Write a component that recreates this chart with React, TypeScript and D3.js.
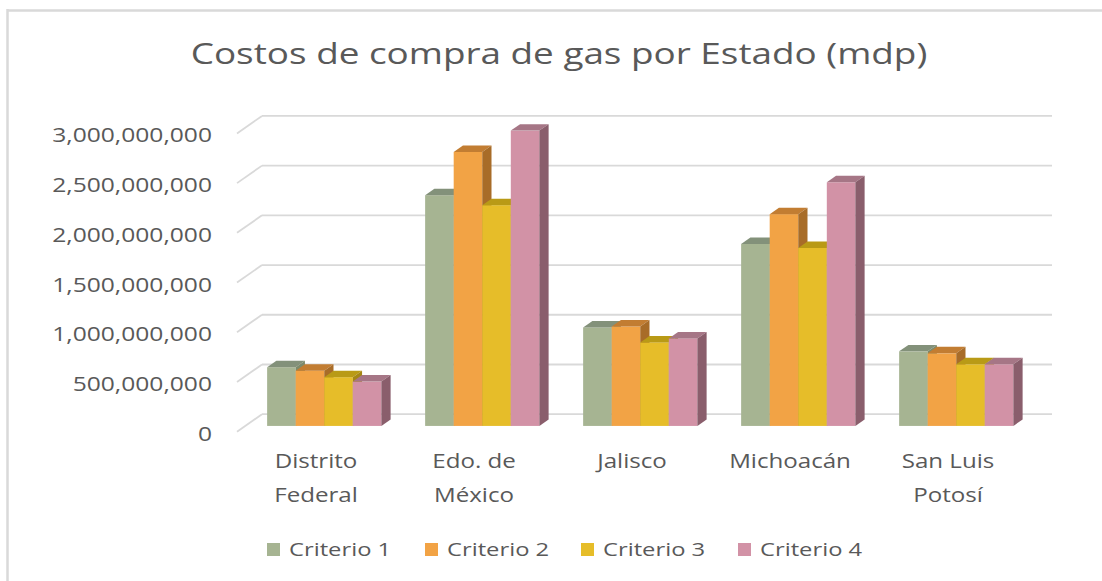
import React, { useEffect, useRef } from 'react';
import * as d3 from 'd3';

// chart data (in pesos)
const states = ['Distrito Federal', 'Edo. de México', 'Jalisco', 'Michoacán', 'San Luis Potosí'];
const stateLines = [['Distrito', 'Federal'], ['Edo. de', 'México'], ['Jalisco'], ['Michoacán'], ['San Luis', 'Potosí']];
const series = ['Criterio 1', 'Criterio 2', 'Criterio 3', 'Criterio 4'];
const criterio1 = [590e6, 2320e6, 990e6, 1830e6, 750e6];
const criterio2 = [556e6, 2755e6, 1000e6, 2130e6, 730e6];
const criterio3 = [490e6, 2220e6, 840e6, 1790e6, 620e6];
const criterio4 = [446e6, 2970e6, 880e6, 2450e6, 620e6];
const yTicks = [0, 500e6, 1000e6, 1500e6, 2000e6, 2500e6, 3000e6];

const front = ['#a6b492', '#f2a345', '#e6bd29', '#d292a6'];
const top = ['#83917a', '#c27d32', '#b99a16', '#a67686'];
const side = ['#7c8a6c', '#a86c28', '#a58614', '#8a5e6c'];

const W = 1102;
const H = 581;
const TXT = '#595959';
const FONT = 'Open Sans';
const SX = 1.25; // the reference text is stretched horizontally

const App = () => {
  const svgRef = useRef();

  useEffect(() => {
    const svg = d3.select(svgRef.current);
    svg.selectAll('*').remove();

    const x0 = 237;   // front-left corner of the floor
    const y0 = 431.7; // front floor at value 0
    const plotW = 790;
    const dx = 25, dy = -17.5; // depth vector (front -> back wall)
    const f1 = 0.33, f2 = 0.7;  // bar depth (fraction of depth)

    const h = d3.scaleLinear().domain([0, 3e9]).range([0, 298.3]);
    const xBand = d3.scaleBand().domain(states).range([0, plotW]).paddingInner(0.277).paddingOuter(0.1385);
    const xSub = d3.scaleBand().domain(series).range([0, xBand.bandwidth()]).padding(0);
    const values = [criterio1, criterio2, criterio3, criterio4];

    // border of the chart area
    svg.append('line').attr('x1', 7).attr('x2', W).attr('y1', 10.5).attr('y2', 10.5)
      .style('stroke', '#d9d9d9').style('stroke-width', 2.5);
    svg.append('line').attr('x1', 7.5).attr('x2', 7.5).attr('y1', 9).attr('y2', H)
      .style('stroke', '#d9d9d9').style('stroke-width', 2.5);

    // title
    svg.append('text')
      .attr('transform', `translate(559,64) scale(${SX},1)`)
      .attr('text-anchor', 'middle')
      .style('font-family', FONT).style('font-size', '29.5px').style('fill', TXT)
      .text('Costos de compra de gas por Estado (mdp)');

    // gridlines: back wall + side wall
    const grid = svg.append('g');
    yTicks.forEach(t => {
      const yb = y0 + dy - h(t);
      grid.append('line')
        .attr('x1', x0 + dx).attr('x2', x0 + dx + plotW)
        .attr('y1', yb).attr('y2', yb)
        .style('stroke', '#d9d9d9').style('stroke-width', 1.8);
      grid.append('line')
        .attr('x1', x0).attr('y1', y0 - h(t))
        .attr('x2', x0 + dx).attr('y2', yb)
        .style('stroke', '#d9d9d9').style('stroke-width', 1.8);
      svg.append('text')
        .attr('transform', `translate(212,${y0 - h(t) + 1.5}) scale(${SX},1)`)
        .attr('text-anchor', 'end')
        .attr('dominant-baseline', 'central')
        .style('font-family', FONT).style('font-size', '19.7px').style('fill', TXT)
        .text(d3.format(',')(t));
    });

    // 3d columns
    const bars = svg.append('g');
    states.forEach((s, i) => {
      series.forEach((c, k) => {
        const v = values[k][i];
        const xl = x0 + xBand(s) + xSub(c) + dx * f1;
        const xr = xl + xSub.bandwidth();
        const yb = y0 + dy * f1;
        const yt = yb - h(v);
        const ox = dx * (f2 - f1), oy = dy * (f2 - f1);
        bars.append('rect')
          .attr('x', xl).attr('y', yt).attr('width', xr - xl).attr('height', yb - yt)
          .style('fill', front[k]);
        bars.append('polygon')
          .attr('points', `${xl},${yt} ${xr},${yt} ${xr + ox},${yt + oy} ${xl + ox},${yt + oy}`)
          .style('fill', top[k]);
        bars.append('polygon')
          .attr('points', `${xr},${yt} ${xr + ox},${yt + oy} ${xr + ox},${yb + oy} ${xr},${yb}`)
          .style('fill', side[k]);
      });
    });

    // category labels
    states.forEach((s, i) => {
      const cx = x0 + xBand(s) + xBand.bandwidth() / 2;
      stateLines[i].forEach((ln, j) => {
        svg.append('text')
          .attr('transform', `translate(${cx},${468 + j * 33.5}) scale(${SX},1)`)
          .attr('text-anchor', 'middle')
          .style('font-family', FONT).style('font-size', '19.3px').style('fill', TXT)
          .text(ln);
      });
    });

    // legend
    const legX = [267, 425, 581, 738];
    series.forEach((c, k) => {
      svg.append('rect')
        .attr('x', legX[k]).attr('y', 543).attr('width', 13).attr('height', 13)
        .style('fill', front[k]);
      svg.append('text')
        .attr('transform', `translate(${legX[k] + 22},556) scale(${SX},1)`)
        .style('font-family', FONT).style('font-size', '19px').style('fill', TXT)
        .text(c);
    });
  }, []);

  return (
    <svg ref={svgRef} width={W} height={H}
      style={{ position: 'absolute', left: 0, top: 0, background: '#fff' }} />
  );
};

export default App;
